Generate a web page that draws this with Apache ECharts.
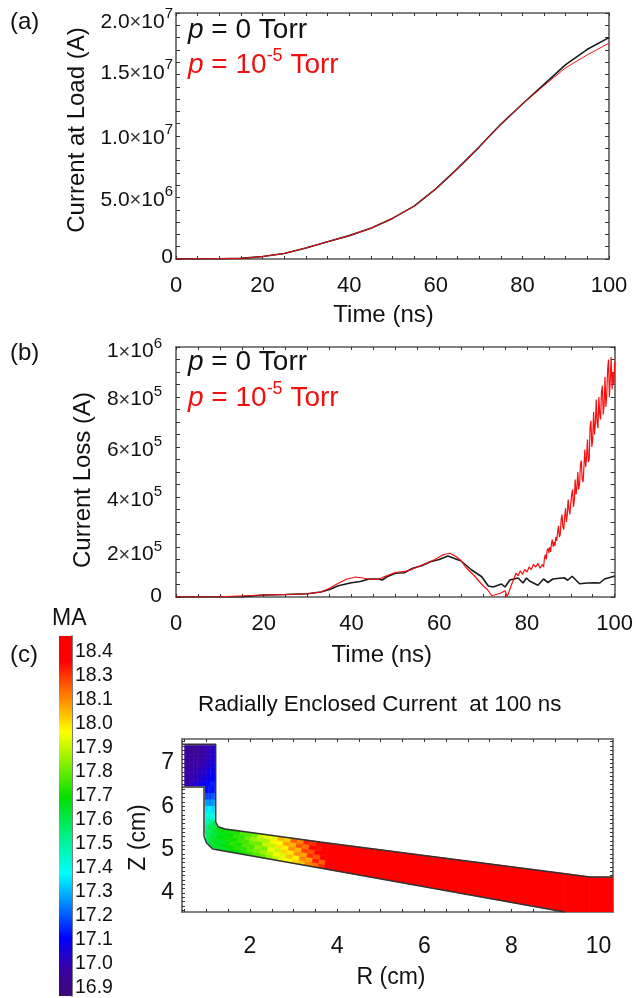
<!DOCTYPE html>
<html><head><meta charset="utf-8">
<style>html,body{margin:0;padding:0;background:#fff}#c{width:636px;height:998px}canvas{filter:blur(0.4px)}</style>
<script src="https://cdn.jsdelivr.net/npm/echarts@6/dist/echarts.min.js"></script>
</head><body><div id="c"></div>
<script>
// ---------- panel (a) ----------
const loadTime = [0,10,15,20,25,30,35,40,45,50,55,60,65,70,75,80,85,90,95,100];
const loadBlack = [0,0.02,0.05,0.2,0.45,0.9,1.4,1.9,2.5,3.3,4.3,5.7,7.35,9.1,10.95,12.6,14.2,15.8,17.05,18.0];
const loadRed   = [0,0.02,0.05,0.2,0.45,0.9,1.4,1.9,2.5,3.3,4.3,5.7,7.35,9.1,10.95,12.6,14.1,15.55,16.6,17.55];
// ---------- panel (b) ---------- (values in 1e5 A)
const lossBlackTime = [0,15,20,25,30,33,35,37,40,42,44,46,47,48,50,52,54,56,58,60,62,65,67.4,69.7,71.2,72.3,74.2,75,76.1,78,79.1,79.9,80.6,82.5,83.8,84.8,85.9,88.5,89.3,90.3,92,93.9,95.4,96.6,97.7,99.7,100];
const lossBlack = [0,0.01,0.08,0.1,0.13,0.2,0.3,0.45,0.57,0.62,0.72,0.72,0.68,0.8,0.95,0.97,1.15,1.25,1.41,1.5,1.64,1.44,1.08,0.81,0.44,0.4,0.52,0.4,0.68,0.76,0.56,0.76,0.64,0.47,0.72,0.58,0.72,0.77,0.67,0.83,0.53,0.56,0.57,0.56,0.72,0.82,0.85];
const lossRedTime = [0,10,20,25,30,33,35,37,39,41,44,46,48,50,53,55,57,59,61,62.5,64,65,66,68,70,71,72,73,74,75,75.5,76,76.5,77,77.5,78,78.5,79,79.5,80,80.5,81,81.5,82,82.5,83,83.5];
const lossRed = [0,0.01,0.08,0.1,0.13,0.2,0.35,0.55,0.72,0.8,0.72,0.7,0.85,0.98,1.05,1.2,1.35,1.5,1.7,1.75,1.6,1.45,1.2,0.85,0.45,0.3,0.05,0.1,0.15,0.25,0.02,0.25,0.5,0.7,0.95,0.85,1.05,0.9,1.1,1.0,1.2,1.1,1.3,1.2,1.35,1.15,1.3];
const lossRedNoisyStart = 83.8, lossRedNoisyStep = 0.2;
const lossRedNoisy = [1.2,1.55,1.7,1.5,1.85,1.95,1.75,2.0,1.8,2.15,2.3,2.0,2.2,2.05,2.4,2.25,2.6,2.85,2.4,2.5,3.1,3.3,2.8,2.7,3.2,3.55,3.0,3.3,3.9,3.5,3.3,3.75,4.1,4.3,3.6,3.85,4.7,4.1,4.4,5.0,4.3,4.5,5.3,5.45,4.7,4.6,5.2,5.9,5.2,5.6,6.3,5.4,5.5,6.8,7.05,6.0,6.3,7.4,6.5,6.9,7.9,7.0,6.75,8.0,7.3,7.1,8.2,8.45,7.3,7.7,8.8,7.6,8.1,9.1,9.5,8.0,8.7,9.6,8.3,9.0,8.5,9.4];
// ---------- tick labels ----------
const timeTicks = [0,20,40,60,80,100];
const loadTickMantissa = ['0','5.0','1.0','1.5','2.0'];
const loadTickExp = ['','6','7','7','7'];
const loadLabelAt = [0.35,5,10.05,15.3,19.45];
const lossTickMantissa = ['0','2','4','6','8','1'];
const lossTickExp = ['','5','5','5','5','6'];
const lossLabelAt = [0.15,1.8,3.97,5.97,8.0,9.92];
const rTicks = [2,4,6,8,10];
const zTicks = [4,5,6,7];
const colorbarLabels = ['16.9','17.0','17.1','17.2','17.3','17.4','17.5','17.6','17.7','17.8','17.9','18.0','18.1','18.3','18.4'];
const colorbarStopAt = [0,0.08,0.16,0.34,0.45,0.55,0.733,0.82,0.93,1];
const colorbarStopColor = ['#3c0a78','#3a00aa','#0000ff','#00ffff','#00f080','#00e000','#ffff00','#ff9000','#ff0000','#ff0000'];
// ---------- panel (c) wall outlines (R, Z in cm) ----------
const wallLower = [[0.44,6.448],[0.945,6.448],[0.945,5.316],[1.0,5.16],[1.145,5.016],[3.606,4.577],[9.225,3.56]];
const wallUpper = [[0.44,7.434],[1.213,7.434],[1.213,5.64],[1.27,5.53],[1.427,5.478],[3.606,5.178],[9.8,4.37],[10.33,4.37]];
// ---------- panel (c) field: cross-sections [Rlow,Zlow,Rhigh,Zhigh] ----------
const blockSections = [[0.5,6.47,0.5,7.41],[0.6,6.47,0.6,7.41],[0.7,6.47,0.7,7.41],[0.8,6.47,0.8,7.41],[0.9,6.47,0.9,7.41],[1.0,6.47,1.0,7.41],[1.1,6.47,1.1,7.41],[1.2,6.47,1.2,7.41]];
const blockValues = [
 [17.0,16.98,17.0,16.96,16.97,16.95,16.97,16.94,16.96],
 [17.02,17.0,16.97,17.0,16.95,16.98,16.93,16.95,16.92],
 [17.04,17.02,17.03,16.98,17.0,16.96,16.96,16.92,16.93],
 [17.08,17.04,17.01,17.04,16.98,17.0,16.94,16.97,16.95],
 [17.1,17.07,17.05,17.02,17.03,16.98,17.0,16.96,16.98],
 [17.13,17.1,17.07,17.08,17.03,17.05,17.0,17.02,17.0],
 [17.16,17.12,17.12,17.08,17.09,17.05,17.06,17.03,17.04]];
const channelSections = [[0.97,6.47,1.19,6.47],[0.97,6.3,1.19,6.3],[0.97,6.15,1.19,6.15],[0.97,6.0,1.19,6.0],[0.97,5.85,1.19,5.85],[0.97,5.7,1.19,5.7],[0.97,5.55,1.19,5.55],[0.97,5.42,1.19,5.66],[1.0,5.2,1.24,5.53],[1.1,5.06,1.36,5.49],
 [1.3,4.988,1.55,5.461],[1.45,4.96,1.68,5.443],[1.6,4.935,1.8,5.427],[1.75,4.908,1.93,5.409],[1.9,4.88,2.05,5.392],[2.05,4.855,2.2,5.372],[2.2,4.828,2.35,5.351],[2.35,4.8,2.5,5.33],[2.5,4.775,2.65,5.31],[2.65,4.748,2.8,5.289],[2.8,4.72,2.95,5.268],[2.95,4.694,3.1,5.248],[3.1,4.667,3.25,5.227],[3.25,4.64,3.4,5.206],[3.4,4.614,3.55,5.186],[3.55,4.587,3.7,5.165],[3.7,4.56,3.8,5.152],[9.225,3.56,9.225,4.45],[9.8,3.56,9.8,4.37],[10.33,3.56,10.33,4.36]];
const channelValues = [
 [17.12,17.15,17.13],[17.2,17.2,17.22],[17.3,17.28,17.3],[17.38,17.4,17.37],[17.44,17.47,17.45],[17.52,17.56,17.54],[17.58,17.62,17.6],
 [17.62,17.64,17.66,17.65],[17.66,17.68,17.7,17.67,17.7,17.72],[17.68,17.72,17.7,17.74,17.72,17.76],
 [17.7,17.74,17.72,17.77,17.75,17.78],[17.73,17.76,17.8,17.76,17.8,17.78],[17.74,17.79,17.77,17.82,17.8,17.84],[17.78,17.8,17.84,17.82,17.87,17.84],
 [17.8,17.85,17.83,17.88,17.92,17.88],[17.84,17.88,17.92,17.87,17.95,17.98],[17.86,17.93,17.88,17.98,17.94,18.02],[17.92,17.96,18.02,17.97,18.06,18.02],
 [17.96,18.04,17.98,18.08,18.04,18.14],[18.02,18.0,18.1,18.06,18.16,18.1],[18.03,18.12,18.07,18.18,18.14,18.24],[18.1,18.06,18.18,18.14,18.26,18.2],
 [18.12,18.2,18.16,18.28,18.22,18.32],[18.2,18.16,18.3,18.26,18.36,18.3],[18.22,18.32,18.26,18.38,18.34,18.42],[18.3,18.24,18.38,18.42,18.4,18.45],
 [18.45],[18.45],[18.45]];

// ---------- helpers ----------
const FONT = 'Liberation Sans', AX = '#5a5a5a';
const line = {show:true,onZero:false,lineStyle:{color:AX,width:1.6}};
const cbStep = 1.5/14;
function colorOf(v){
  const t = ((v-16.9)/cbStep+0.33)/15;
  for(let i=1;i<colorbarStopAt.length;i++){
    if(t<=colorbarStopAt[i]){
      const f=Math.max(0,(t-colorbarStopAt[i-1])/(colorbarStopAt[i]-colorbarStopAt[i-1]));
      return echarts.color.lerp(f,[colorbarStopColor[i-1],colorbarStopColor[i]]);
    }
  }
  return colorbarStopColor[colorbarStopColor.length-1];
}
function sciRich(size){return {
  n:{fontFamily:FONT,fontSize:size,color:'#111',lineHeight:26,verticalAlign:'bottom'},
  t:{fontFamily:FONT,fontSize:size-1,color:'#333',lineHeight:25,verticalAlign:'bottom'},
  s:{fontFamily:FONT,fontSize:size-6,color:'#111',lineHeight:16,verticalAlign:'top'}};}
function sci(m,e){ if(!e) return '{n|'+m+'}'; return '{n|'+m+'}{t|×}{n|10}{s|'+e+'}'; }
function xy(a,b){return a.map((t,i)=>[t,b[i]]);}
function cells(sections,values){
  const out=[];
  for(let i=0;i<values.length;i++){
    const a=sections[i],b=sections[i+1],row=values[i];
    row.forEach((v,k)=>out.push([a[0],a[1],a[2],a[3],b[0],b[1],b[2],b[3],k,row.length,v]));
  }
  return out;
}
const lab = (size)=>({fontFamily:FONT,fontSize:size,color:'#111'});
function timeAxes(g){
  return [
   {gridIndex:g,type:'value',min:0,max:100,interval:5,position:'bottom',axisLine:line,splitLine:{show:false},
    axisTick:{inside:true,length:3,lineStyle:{color:'#333',width:1}},
    axisLabel:{...lab(22),margin:16,customValues:timeTicks},
    name:'Time (ns)',nameLocation:'middle',nameGap:g==0?44:46,nameTextStyle:{...lab(24),padding:[0,g==0?18:27,0,0]}},
   {gridIndex:g,type:'value',min:0,max:100,interval:5,position:'top',axisLine:line,splitLine:{show:false},
    axisTick:{inside:true,length:3,lineStyle:{color:'#333',width:1}},axisLabel:{show:false}}];
}
const rHalf=[];for(let i=1;i<=20;i++)rHalf.push(i*0.5);
const zTenth=[];for(let i=36;i<=75;i++)zTenth.push(i/10);
const cbTickAt=[];for(let i=0;i<=29;i++)cbTickAt.push(i/2);
const cbIdx=colorbarLabels.map((_,i)=>i);

const xAxis=[...timeAxes(0),...timeAxes(1),
 {gridIndex:2,type:'value',min:0.44,max:10.33,position:'bottom',axisLine:line,splitLine:{show:false},
  axisTick:{inside:true,length:3,customValues:rHalf,lineStyle:{color:'#333'}},
  axisLabel:{...lab(23),margin:23,customValues:rTicks},
  name:'R (cm)',nameLocation:'middle',nameGap:54,nameTextStyle:{...lab(23),padding:[0,13,0,0]}},
 {gridIndex:2,type:'value',min:0.44,max:10.33,position:'top',axisLine:line,splitLine:{show:false},
  axisTick:{inside:true,length:3,customValues:rHalf,lineStyle:{color:'#333'}},axisLabel:{show:false}},
 {gridIndex:3,type:'value',min:0,max:1,show:false}];
const yTick={inside:true,length:4,lineStyle:{color:'#333',width:1}};
const yAxis=[
 {gridIndex:0,type:'value',min:0,max:20,interval:1,position:'left',axisLine:line,splitLine:{show:false},axisTick:yTick,
  axisLabel:{margin:3,customValues:loadLabelAt,rich:sciRich(21),formatter:(v)=>{const i=loadLabelAt.indexOf(v);return sci(loadTickMantissa[i],loadTickExp[i]);}},
  name:'Current at Load (A)',nameLocation:'middle',nameGap:83,nameTextStyle:{...lab(24),padding:[0,0,0,12]}},
 {gridIndex:0,type:'value',min:0,max:20,interval:1,position:'right',axisLine:line,splitLine:{show:false},axisTick:yTick,axisLabel:{show:false}},
 {gridIndex:1,type:'value',min:0,max:10,interval:0.5,position:'left',axisLine:line,splitLine:{show:false},axisTick:yTick,
  axisLabel:{margin:14,customValues:lossLabelAt,rich:sciRich(21),formatter:(v)=>{const i=lossLabelAt.indexOf(v);return sci(lossTickMantissa[i],lossTickExp[i]);}},
  name:'Current Loss (A)',nameLocation:'middle',nameGap:81,nameTextStyle:{...lab(24),padding:[0,16,0,0]}},
 {gridIndex:1,type:'value',min:0,max:10,interval:0.5,position:'right',axisLine:line,splitLine:{show:false},axisTick:yTick,axisLabel:{show:false}},
 {gridIndex:2,type:'value',min:3.56,max:7.557,position:'left',axisLine:line,splitLine:{show:false},
  axisTick:{inside:true,length:3,customValues:zTenth,lineStyle:{color:'#333'}},
  axisLabel:{...lab(23),margin:8,customValues:zTicks},
  name:'Z (cm)',nameLocation:'middle',nameGap:30,nameTextStyle:{...lab(23),padding:[0,24,0,0]}},
 {gridIndex:2,type:'value',min:3.56,max:7.557,position:'right',axisLine:line,splitLine:{show:false},
  axisTick:{inside:true,length:3,customValues:zTenth,lineStyle:{color:'#333'}},axisLabel:{show:false}},
 {gridIndex:3,type:'value',min:-0.33,max:14.67,position:'right',axisLine:line,splitLine:{show:false},
  axisTick:{inside:true,length:3,customValues:cbTickAt,lineStyle:{color:'#444'}},
  axisLabel:{...lab(19.5),margin:3,customValues:cbIdx,formatter:(v)=>colorbarLabels[v]}}];

const lineSeries=(name,x,y,data,color,width)=>({name,type:'line',xAxisIndex:x,yAxisIndex:y,data,showSymbol:false,symbol:'none',
  lineStyle:{color,width},itemStyle:{color},silent:true,animation:false,clip:true});

const redLoss=xy(lossRedTime,lossRed).concat(lossRedNoisy.map((v,i)=>[lossRedNoisyStart+i*lossRedNoisyStep,v]));
const field=cells(blockSections,blockValues).concat(cells(channelSections,channelValues));
const series=[
 lineSeries('p = 0 Torr',0,0,xy(loadTime,loadBlack),'#1a1a1a',1.6),
 lineSeries('p = 1e-5 Torr',0,0,xy(loadTime,loadRed),'#f01010',1),
 lineSeries('p = 0 Torr',2,2,xy(lossBlackTime,lossBlack),'#1a1a1a',1.6),
 lineSeries('p = 1e-5 Torr',2,2,redLoss,'#f81010',1.2),
 {type:'custom',xAxisIndex:4,yAxisIndex:4,data:field,clip:true,silent:true,animation:false,
  encode:{x:[0,2,4,6],y:[1,3,5,7]},
  renderItem(p,api){
   const v=i=>api.value(i),k=v(8),n=v(9);
   const at=(r0,z0,r1,z1,f)=>api.coord([r0+(r1-r0)*f,z0+(z1-z0)*f]);
   const pts=[at(v(0),v(1),v(2),v(3),k/n),at(v(4),v(5),v(6),v(7),k/n),at(v(4),v(5),v(6),v(7),(k+1)/n),at(v(0),v(1),v(2),v(3),(k+1)/n)];
   const c=colorOf(v(10));
   return {type:'polygon',shape:{points:pts},style:{fill:c,stroke:c,lineWidth:0.6}};
  }},
 {...lineSeries('wall lower',4,4,wallLower,'#333',1.5)},
 {...lineSeries('wall upper',4,4,wallUpper,'#333',1.5)},
 {type:'custom',xAxisIndex:6,yAxisIndex:6,data:[[0,-0.33,1,14.67]],silent:true,animation:false,
  encode:{x:[0,2],y:[1,3]},z:1,
  renderItem(p,api){
   const a=api.coord([api.value(0),api.value(1)]),b=api.coord([api.value(2),api.value(3)]);
   return {type:'rect',shape:{x:a[0],y:b[1],width:b[0]-a[0],height:a[1]-b[1]},
    style:{fill:new echarts.graphic.LinearGradient(0,1,0,0,colorbarStopAt.map((o,i)=>({offset:o,color:colorbarStopColor[i]})))}};
  }}
];

function legendText(x,y,exp){
  const col=exp?'#f01010':'#111';
  const base={fontFamily:FONT,fontSize:28,fill:col,lineHeight:32,verticalAlign:'bottom'};
  return {type:'text',left:x,top:y,z:20,silent:true,style:{
    text:exp?'{i|p}{n| = 10}{s|-5}{n| Torr}':'{i|p}{n| = 0 Torr}',
    rich:{i:{...base,fontStyle:'italic'},n:base,s:{fontFamily:FONT,fontSize:18,fill:col,lineHeight:18,verticalAlign:'top'}}}};
}
const plainText=(text,x,y,size)=>({type:'text',left:x,top:y,silent:true,z:20,style:{text,fontFamily:FONT,fontSize:size,fill:'#111'}});

const chart=echarts.init(document.getElementById('c'),null,{renderer:'canvas'});
chart.setOption({
 animation:false,backgroundColor:'#fff',
 grid:[
  {left:176,top:13,width:433,height:246},
  {left:176,top:347,width:441,height:250},
  {left:182,top:739,width:431,height:173},
  {left:59,top:636,width:13,height:360}],
 xAxis,yAxis,series,
 graphic:[
  plainText('(a)',10,10,24),plainText('(b)',10,341,24),plainText('(c)',10,643,24),
  plainText('MA',52,607,23),
  plainText('Radially Enclosed Current  at 100 ns',198,694,22.4),
  legendText(188,16,false),legendText(188,47,true),
  legendText(188,348,false),legendText(188,380,true)]
});
</script></body></html>
